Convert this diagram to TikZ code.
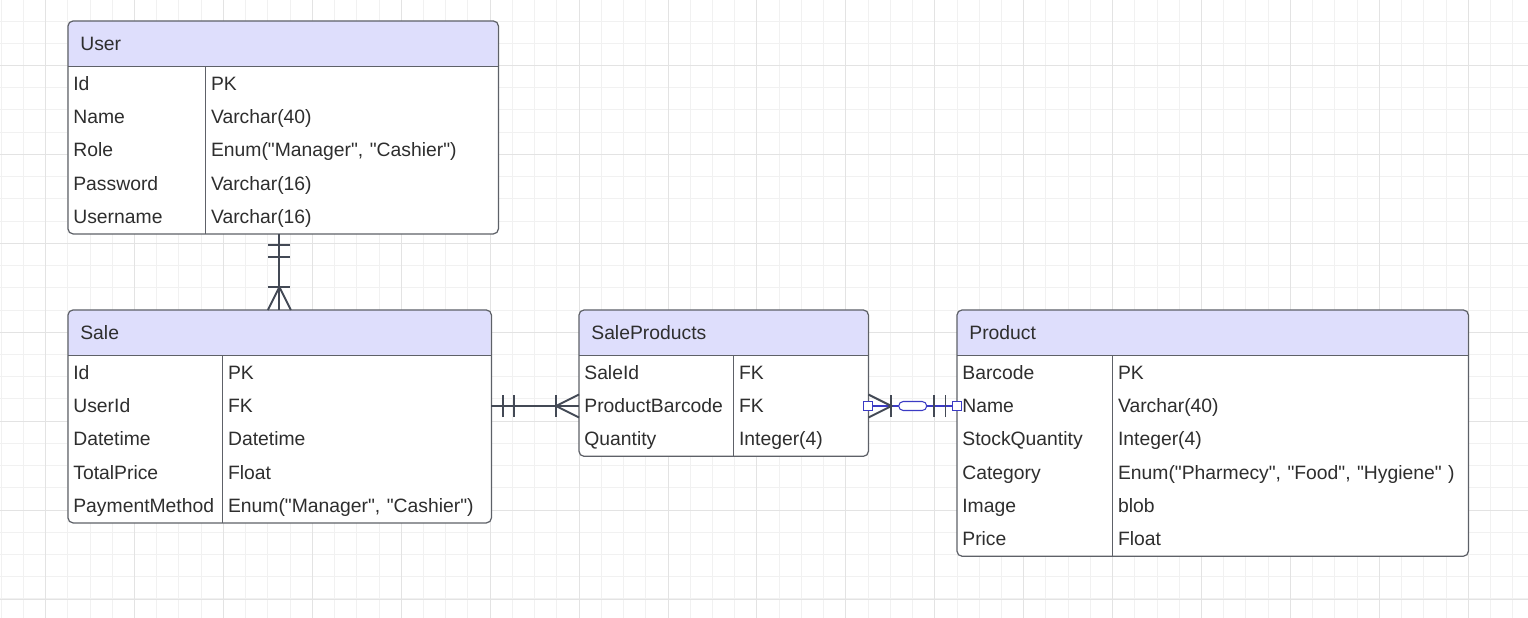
\documentclass[tikz,border=0pt]{standalone}
\usepackage{fontspec}
\setmainfont{Liberation Sans}[Ligatures=TeXOff]
\usetikzlibrary{backgrounds,decorations.markings}

\definecolor{gridminor}{HTML}{F1F1F1}
\definecolor{gridmajor}{HTML}{E3E3E3}
\definecolor{headfill}{HTML}{DEDEFC}
\definecolor{framecol}{HTML}{5E6168}
\definecolor{txtcol}{HTML}{2E2E2E}
\definecolor{relcol}{HTML}{434955}
\definecolor{selcol}{HTML}{3B3BC4}

\tikzstyle{header} = [rectangle, minimum height=0.9cm, inner xsep=0.24cm,
inner ysep=0pt, anchor=north west, align=left, text=txtcol,
text height=9pt, text depth=1.5pt, font=\fontsize{11}{13}\selectfont]
\tikzstyle{keycell} = [rectangle, minimum height=0.666cm, inner xsep=0.1cm,
inner ysep=0pt, align=left, text=txtcol, text height=9pt, text depth=1.5pt,
font=\fontsize{11}{13}\selectfont]
\tikzstyle{typecell} = [keycell]
\tikzstyle{frame} = [draw=framecol, line width=0.7pt, rounded corners=0.1cm]
\tikzstyle{divider} = [draw=framecol, line width=0.6pt]
\tikzstyle{rel} = [draw=relcol, line width=1.1pt]
\tikzstyle{handle} = [rectangle, draw=selcol, fill=white, line width=0.6pt,
minimum size=0.18cm, inner sep=0pt]
\tikzstyle{pill} = [rectangle, rounded corners=0.09cm, draw=selcol, fill=white,
line width=0.6pt, minimum width=0.56cm, minimum height=0.18cm, inner sep=0pt]

\tikzset{
  onestart/.style={postaction={decorate, decoration={markings,
    mark=at position 0.23cm with {\draw[rel] (0,-0.22) -- (0,0.22);},
    mark=at position 0.46cm with {\draw[rel] (0,-0.22) -- (0,0.22);}}}},
  oneend/.style={postaction={decorate, decoration={markings,
    mark=at position -0.46cm with {\draw[rel] (0,-0.22) -- (0,0.22);},
    mark=at position -0.23cm with {\draw[rel] (0,-0.22) -- (0,0.22);}}}},
  manystart/.style={postaction={decorate, decoration={markings,
    mark=at position 0.46cm with {\draw[rel] (0,-0.22) -- (0,0.22);
      \draw[rel] (-0.46,0.23) -- (0,0) -- (-0.46,-0.23);}}}},
  manyend/.style={postaction={decorate, decoration={markings,
    mark=at position -0.46cm with {\draw[rel] (0,-0.22) -- (0,0.22);
      \draw[rel] (0.46,0.23) -- (0,0) -- (0.46,-0.23);}}}}
}

\begin{document}
\begin{tikzpicture}[node distance=0.666cm]
  \useasboundingbox (0,0) rectangle (30.56,-12.36);
  %User table
  \node (user) [header, text width=8.1cm] at (1.36,-0.42) {User};
  \node (user-id) [keycell, text width=2.54cm, anchor=north west] at (user.south west) {Id};
  \node (user-name) [keycell, text width=2.54cm, below of=user-id] {Name};
  \node (user-role) [keycell, text width=2.54cm, below of=user-name] {Role};
  \node (user-pass) [keycell, text width=2.54cm, below of=user-role] {Password};
  \node (user-uname) [keycell, text width=2.54cm, below of=user-pass] {Username};
  \node (user-idt) [typecell, text width=5.64cm, anchor=north west] at (user-id.north east) {PK};
  \node (user-namet) [typecell, text width=5.64cm, below of=user-idt] {Varchar(40)};
  \node (user-rolet) [typecell, text width=5.64cm, below of=user-namet] {Enum("Manager", "Cashier")};
  \node (user-passt) [typecell, text width=5.64cm, below of=user-rolet] {Varchar(16)};
  \node (user-unamet) [typecell, text width=5.64cm, below of=user-passt] {Varchar(16)};
  %Sale table
  \node (sale) [header, text width=7.96cm] at (1.36,-6.2) {Sale};
  \node (sale-id) [keycell, text width=2.88cm, anchor=north west] at (sale.south west) {Id};
  \node (sale-userid) [keycell, text width=2.88cm, below of=sale-id] {UserId};
  \node (sale-date) [keycell, text width=2.88cm, below of=sale-userid] {Datetime};
  \node (sale-total) [keycell, text width=2.88cm, below of=sale-date] {TotalPrice};
  \node (sale-pay) [keycell, text width=2.88cm, below of=sale-total] {PaymentMethod};
  \node (sale-idt) [typecell, text width=5.16cm, anchor=north west] at (sale-id.north east) {PK};
  \node (sale-useridt) [typecell, text width=5.16cm, below of=sale-idt] {FK};
  \node (sale-datet) [typecell, text width=5.16cm, below of=sale-useridt] {Datetime};
  \node (sale-totalt) [typecell, text width=5.16cm, below of=sale-datet] {Float};
  \node (sale-payt) [typecell, text width=5.16cm, below of=sale-totalt] {Enum("Manager", "Cashier")};
  %SaleProducts table
  \node (sp) [header, text width=5.28cm] at (11.58,-6.2) {SaleProducts};
  \node (sp-saleid) [keycell, text width=2.88cm, anchor=north west] at (sp.south west) {SaleId};
  \node (sp-barcode) [keycell, text width=2.88cm, below of=sp-saleid] {ProductBarcode};
  \node (sp-qty) [keycell, text width=2.88cm, below of=sp-barcode] {Quantity};
  \node (sp-saleidt) [typecell, text width=2.48cm, anchor=north west] at (sp-saleid.north east) {FK};
  \node (sp-barcodet) [typecell, text width=2.48cm, below of=sp-saleidt] {FK};
  \node (sp-qtyt) [typecell, text width=2.48cm, below of=sp-barcodet] {Integer(4)};
  %Product table
  \node (product) [header, text width=9.72cm] at (19.14,-6.2) {Product};
  \node (product-barcode) [keycell, text width=2.9cm, anchor=north west] at (product.south west) {Barcode};
  \node (product-name) [keycell, text width=2.9cm, below of=product-barcode] {Name};
  \node (product-stock) [keycell, text width=2.9cm, below of=product-name] {StockQuantity};
  \node (product-cat) [keycell, text width=2.9cm, below of=product-stock] {Category};
  \node (product-img) [keycell, text width=2.9cm, below of=product-cat] {Image};
  \node (product-price) [keycell, text width=2.9cm, below of=product-img] {Price};
  \node (product-barcodet) [typecell, text width=6.9cm, anchor=north west] at (product-barcode.north east) {PK};
  \node (product-namet) [typecell, text width=6.9cm, below of=product-barcodet] {Varchar(40)};
  \node (product-stockt) [typecell, text width=6.9cm, below of=product-namet] {Integer(4)};
  \node (product-catt) [typecell, text width=6.9cm, below of=product-stockt] {Enum("Pharmecy", "Food", "Hygiene" )};
  \node (product-imgt) [typecell, text width=6.9cm, below of=product-catt] {blob};
  \node (product-pricet) [typecell, text width=6.9cm, below of=product-imgt] {Float};
  %frames and dividers
  \draw [frame] (user.north west) rectangle (user-unamet.south east);
  \draw [divider] (user.south west) -- (user.south east);
  \draw [divider] (user-id.north east) -- (user-uname.south east);
  \draw [frame] (sale.north west) rectangle (sale-payt.south east);
  \draw [divider] (sale.south west) -- (sale.south east);
  \draw [divider] (sale-id.north east) -- (sale-pay.south east);
  \draw [frame] (sp.north west) rectangle (sp-qtyt.south east);
  \draw [divider] (sp.south west) -- (sp.south east);
  \draw [divider] (sp-saleid.north east) -- (sp-qty.south east);
  \draw [frame] (product.north west) rectangle (product-pricet.south east);
  \draw [divider] (product.south west) -- (product.south east);
  \draw [divider] (product-barcode.north east) -- (product-price.south east);
  %relations
  \draw [rel, onestart, manyend] (user-uname.south -| sale.north) -- (sale.north);
  \draw [rel, onestart, manyend] (sale-useridt.east) -- (sp-barcode.west);
  \draw [rel, draw=selcol, line width=1pt, manystart, oneend] (sp-barcodet.east)
    -- node (relhandle) [pill] {} (product-name.west);
  \node (handle-sp) [handle] at (sp-barcodet.east) {};
  \node (handle-product) [handle] at (product-name.west) {};
  %background grid and fills
  \begin{scope}[on background layer]
    \fill [white] (0,0) rectangle (30.56,-12.36);
    \clip (0,0) rectangle (30.56,-12.36);
    \begin{scope}[shift={(0.022,-0.42)}]
      \draw [gridminor, line width=0.55pt] (-1,-13) grid [step=0.4446] (31,1);
    \end{scope}
    \begin{scope}[shift={(0.911,-1.31)}]
      \draw [gridmajor, line width=0.55pt] (-2,-12) grid [step=1.7784] (31,2);
    \end{scope}
    \fill [white, rounded corners=0.1cm] (user.north west) rectangle (user-unamet.south east);
    \fill [headfill, rounded corners=0.1cm] (user.south west) |- (user.north east) -- (user.south east);
    \fill [white, rounded corners=0.1cm] (sale.north west) rectangle (sale-payt.south east);
    \fill [headfill, rounded corners=0.1cm] (sale.south west) |- (sale.north east) -- (sale.south east);
    \fill [white, rounded corners=0.1cm] (sp.north west) rectangle (sp-qtyt.south east);
    \fill [headfill, rounded corners=0.1cm] (sp.south west) |- (sp.north east) -- (sp.south east);
    \fill [white, rounded corners=0.1cm] (product.north west) rectangle (product-pricet.south east);
    \fill [headfill, rounded corners=0.1cm] (product.south west) |- (product.north east) -- (product.south east);
  \end{scope}
\end{tikzpicture}
\end{document}
